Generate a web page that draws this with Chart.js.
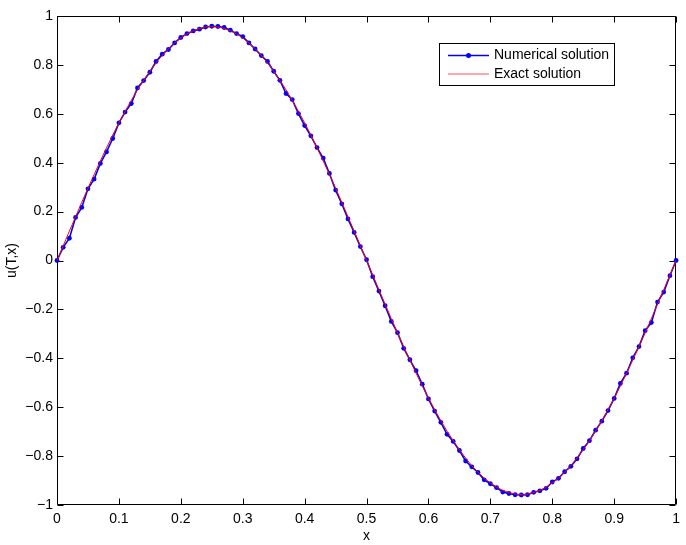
<!DOCTYPE html>
<html>
<head>
<meta charset="utf-8">
<script src="https://cdn.jsdelivr.net/npm/chart.js@4"></script>
<style>
html,body{margin:0;padding:0;background:#fff;}
#wrap{width:686px;height:545px;}
</style>
</head>
<body>
<div id="wrap"><canvas id="c" width="686" height="545"></canvas></div>
<script>
const xValues = [0,0.01,0.02,0.03,0.04,0.05,0.06,0.07,0.08,0.09,0.10,0.11,0.12,0.13,0.14,0.15,0.16,0.17,0.18,0.19,0.20,0.21,0.22,0.23,0.24,0.25,0.26,0.27,0.28,0.29,0.30,0.31,0.32,0.33,0.34,0.35,0.36,0.37,0.38,0.39,0.40,0.41,0.42,0.43,0.44,0.45,0.46,0.47,0.48,0.49,0.50,0.51,0.52,0.53,0.54,0.55,0.56,0.57,0.58,0.59,0.60,0.61,0.62,0.63,0.64,0.65,0.66,0.67,0.68,0.69,0.70,0.71,0.72,0.73,0.74,0.75,0.76,0.77,0.78,0.79,0.80,0.81,0.82,0.83,0.84,0.85,0.86,0.87,0.88,0.89,0.90,0.91,0.92,0.93,0.94,0.95,0.96,0.97,0.98,0.99,1.00];

const numerical = [0,0.054,0.091,0.176,0.217,0.293,0.333,0.397,0.444,0.499,0.563,0.607,0.642,0.706,0.736,0.770,0.814,0.844,0.863,0.890,0.912,0.928,0.939,0.946,0.955,0.958,
0.957,0.953,0.942,0.928,0.916,0.890,0.865,0.838,0.814,0.774,0.737,0.683,0.658,0.601,0.552,0.510,0.462,0.419,0.356,0.288,0.232,0.170,0.115,0.057,0.003,
-0.066,-0.125,-0.185,-0.249,-0.295,-0.359,-0.406,-0.451,-0.506,-0.566,-0.616,-0.662,-0.711,-0.740,-0.777,-0.820,-0.844,-0.867,-0.897,-0.913,-0.929,-0.947,-0.953,-0.958,-0.959,
-0.958,-0.948,-0.942,-0.932,-0.906,-0.891,-0.864,-0.842,-0.811,-0.769,-0.737,-0.694,-0.657,-0.614,-0.564,-0.503,-0.461,-0.398,-0.352,-0.287,-0.254,-0.170,-0.129,-0.062,0];

const exact = [0,0.060,0.120,0.179,0.238,0.296,0.352,0.407,0.461,0.513,0.563,0.610,0.655,0.698,0.737,0.774,0.808,0.839,0.866,0.890,0.910,0.927,0.940,0.949,0.955,0.957,
0.955,0.949,0.940,0.927,0.910,0.890,0.866,0.839,0.808,0.774,0.737,0.698,0.655,0.610,0.563,0.513,0.461,0.407,0.352,0.296,0.238,0.179,0.120,0.060,0,
-0.060,-0.120,-0.179,-0.238,-0.296,-0.352,-0.407,-0.461,-0.513,-0.563,-0.610,-0.655,-0.698,-0.737,-0.774,-0.808,-0.839,-0.866,-0.890,-0.910,-0.927,-0.940,-0.949,-0.955,-0.957,
-0.955,-0.949,-0.940,-0.927,-0.910,-0.890,-0.866,-0.839,-0.808,-0.774,-0.737,-0.698,-0.655,-0.610,-0.563,-0.513,-0.461,-0.407,-0.352,-0.296,-0.238,-0.179,-0.120,-0.060,0];

const xTicks = [0,0.1,0.2,0.3,0.4,0.5,0.6,0.7,0.8,0.9,1];
const yTicks = [-1,-0.8,-0.6,-0.4,-0.2,0,0.2,0.4,0.6,0.8,1];
const seriesNames = ['Numerical solution','Exact solution'];

const FONT = 'Liberation Sans, Arial, Helvetica, sans-serif';

function fmt(v){
  const r = Math.round(v*10)/10;
  const s = String(Math.abs(r));
  return (r < 0 ? '\u2212' : '') + s;
}

const framePlugin = {
  id: 'frame',
  beforeDatasetsDraw(chart){
    const {ctx, chartArea:a, scales:{x, y}} = chart;
    ctx.save();
    ctx.strokeStyle = '#000';
    ctx.lineWidth = 1;
    const L = Math.round(a.left)+0.5, R = Math.round(a.right)-0.5, T = Math.round(a.top)+0.5, B = Math.round(a.bottom)-0.5;
    ctx.beginPath();
    ctx.rect(L, T, R-L, B-T);
    ctx.stroke();
    const tl = 6;
    ctx.beginPath();
    xTicks.forEach(v => {
      const px = Math.round(x.getPixelForValue(v)) + 0.5;
      ctx.moveTo(px, B); ctx.lineTo(px, B - tl);
      ctx.moveTo(px, T); ctx.lineTo(px, T + tl);
    });
    yTicks.forEach(v => {
      const py = Math.round(y.getPixelForValue(v)) + 0.5;
      ctx.moveTo(L, py); ctx.lineTo(L + tl, py);
      ctx.moveTo(R, py); ctx.lineTo(R - tl, py);
    });
    ctx.stroke();
    ctx.restore();
  },
  afterDraw(chart){
    const ctx = chart.ctx;
    ctx.save();
    // legend
    const bx = 439.5, by = 43.5, bw = 175, bh = 42;
    ctx.fillStyle = '#fff';
    ctx.fillRect(bx, by, bw, bh);
    ctx.strokeStyle = '#000';
    ctx.lineWidth = 1;
    ctx.strokeRect(bx, by, bw, bh);
    const y1 = 55.5, y2 = 74;
    ctx.strokeStyle = '#0000ff';
    ctx.lineWidth = 1.5;
    ctx.beginPath(); ctx.moveTo(448, y1); ctx.lineTo(489, y1); ctx.stroke();
    ctx.fillStyle = '#0000ff';
    ctx.beginPath(); ctx.arc(468.5, y1, 2.5, 0, Math.PI*2); ctx.fill();
    ctx.strokeStyle = '#ff8a8a';
    ctx.lineWidth = 1.3;
    ctx.beginPath(); ctx.moveTo(448, y2); ctx.lineTo(489, y2); ctx.stroke();
    ctx.fillStyle = '#000';
    ctx.font = '14px ' + FONT;
    ctx.textBaseline = 'middle';
    ctx.textAlign = 'left';
    ctx.fillText(seriesNames[0], 494, y1);
    ctx.fillText(seriesNames[1], 494, y2);
    ctx.restore();
  }
};

new Chart(document.getElementById('c'), {
  type: 'line',
  data: {
    datasets: [
      {
        label: seriesNames[0],
        data: xValues.map((v,i)=>({x:v, y:numerical[i]})),
        borderColor: '#0000ff',
        backgroundColor: '#0000ff',
        borderWidth: 1.6,
        pointRadius: 2.4,
        pointBorderWidth: 0,
        pointBackgroundColor: '#0000ff',
        tension: 0,
        clip: false,
        order: 2
      },
      {
        label: seriesNames[1],
        data: xValues.map((v,i)=>({x:v, y:exact[i]})),
        borderColor: '#ff0000',
        borderWidth: 1,
        pointRadius: 0,
        tension: 0,
        clip: false,
        order: 1
      }
    ]
  },
  options: {
    responsive: false,
    animation: false,
    devicePixelRatio: 1,
    layout: { padding: { left: 0, top: 16, right: 9, bottom: 0 } },
    plugins: { legend: { display: false }, tooltip: { enabled: false } },
    scales: {
      x: {
        type: 'linear', min: 0, max: 1,
        afterFit(s){ s.height = 40; },
        afterBuildTicks(s){ s.ticks = xTicks.map(v=>({value:v})); },
        grid: { display: false, drawTicks: false },
        border: { display: false },
        ticks: { padding: 6, color: '#000', font: { family: FONT, size: 14 }, callback: v => fmt(v), maxRotation: 0, autoSkip: false },
        title: { display: true, text: 'x', color: '#000', font: { family: FONT, size: 14 }, padding: { top: 0, bottom: 0 } }
      },
      y: {
        type: 'linear', min: -1, max: 1,
        afterFit(s){ s.width = 57; },
        afterBuildTicks(s){ s.ticks = yTicks.map(v=>({value:v})); },
        grid: { display: false, drawTicks: false },
        border: { display: false },
        ticks: { padding: 4, color: '#000', font: { family: FONT, size: 14 }, callback: v => fmt(v), autoSkip: false },
        title: { display: true, text: 'u(T,x)', color: '#000', font: { family: FONT, size: 14 }, padding: { top: 4, bottom: 0 } }
      }
    }
  },
  plugins: [framePlugin]
});
</script>
</body>
</html>
